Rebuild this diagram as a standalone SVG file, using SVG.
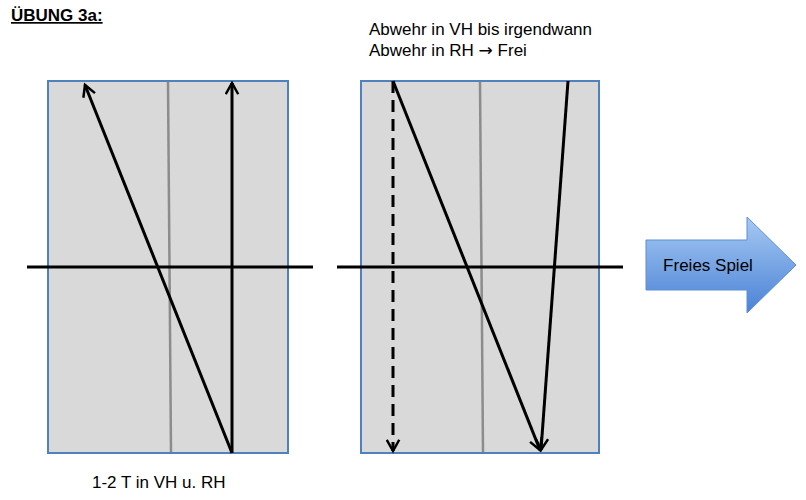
<svg xmlns="http://www.w3.org/2000/svg" width="806" height="500" viewBox="0 0 806 500">
<style>
text{font-family:"Liberation Sans",Arial,sans-serif;fill:#000}
.field{fill:#d9d9d9;stroke:#4f81bd;stroke-width:2}
.mid{stroke:#8c8c8c;stroke-width:2.5}
.ln{stroke:#000;stroke-width:3;fill:none}
</style>
<defs>
<marker id="ah" viewBox="0 0 12 12" refX="10" refY="6" markerWidth="5" markerHeight="5" orient="auto" markerUnits="strokeWidth">
<path d="M1,1 L10,6 L1,11" fill="none" stroke="#000" stroke-width="2"/>
</marker>
<linearGradient id="bg" x1="0" y1="0" x2="0" y2="1">
<stop offset="0" stop-color="#a6c9f2"/>
<stop offset="1" stop-color="#4a82d6"/>
</linearGradient>
</defs>
<rect width="806" height="500" fill="#fff"/>
<text x="11" y="21" font-size="17" font-weight="bold" text-decoration="underline">ÜBUNG 3a:</text>
<text x="369" y="35" font-size="17">Abwehr in VH bis irgendwann</text>
<text x="369" y="56" font-size="17">Abwehr in RH <tspan font-family="'DejaVu Sans',sans-serif" font-size="17">→</tspan> Frei</text>
<g id="field1">
<rect class="field" x="48" y="81" width="240" height="372"/>
<line class="mid" x1="168" y1="82" x2="171" y2="452"/>
</g>
<g id="field2">
<rect class="field" x="361" y="81" width="238" height="372"/>
<line class="mid" x1="480" y1="82" x2="483" y2="452"/>
</g>
<g id="connectors">
<line class="ln" x1="27" y1="267" x2="313" y2="267"/>
<line class="ln" x1="337" y1="267" x2="623" y2="267"/>
<line class="ln" x1="232" y1="453" x2="85" y2="85" marker-end="url(#ah)"/>
<line class="ln" x1="232" y1="453" x2="232" y2="83" marker-end="url(#ah)"/>
<line class="ln" x1="393" y1="81" x2="393" y2="451" stroke-dasharray="12,7" marker-end="url(#ah)"/>
<line class="ln" x1="393" y1="81" x2="540" y2="450" marker-end="url(#ah)"/>
<line class="ln" x1="568" y1="81" x2="541" y2="450" marker-end="url(#ah)"/>
</g>
<g id="freies">
<path d="M646,240 L747,240 L747,217 L796,265 L747,313 L747,290 L646,290 Z" fill="url(#bg)" stroke="#5b8fd8" stroke-width="1"/>
<text x="708" y="271" font-size="17" text-anchor="middle">Freies Spiel</text>
</g>
<text x="92" y="488" font-size="17">1-2 T in VH u. RH</text>
</svg>
